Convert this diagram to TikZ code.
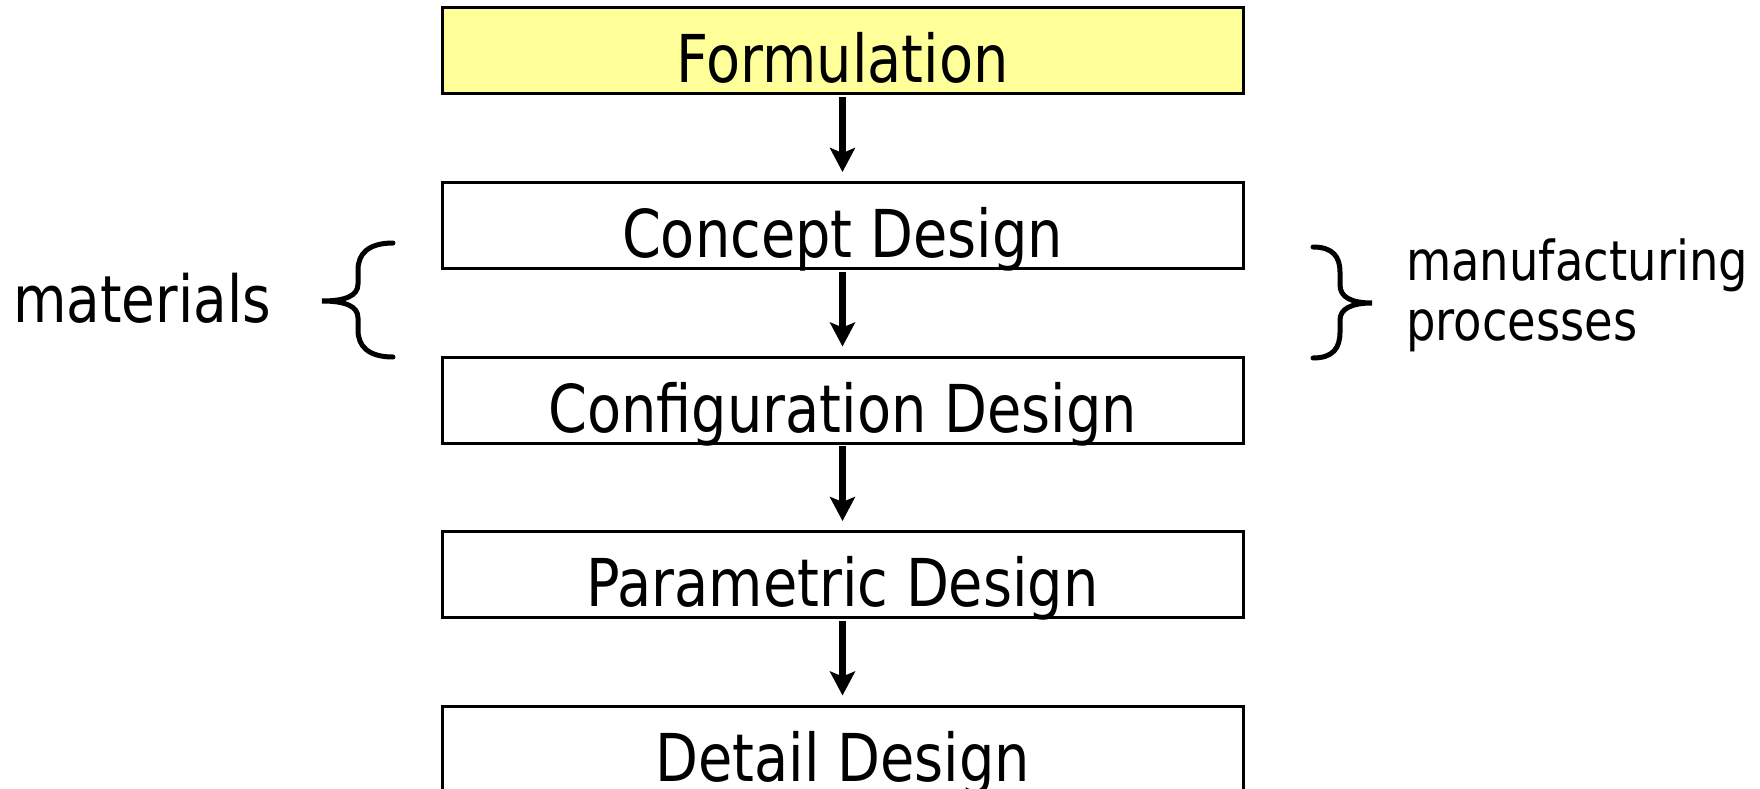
\documentclass[tikz,border=0pt]{standalone}
\usepackage{fontspec}
\setmainfont{DejaVu Sans}[FakeStretch=0.845]
\usetikzlibrary{arrows.meta}
\definecolor{formyellow}{HTML}{FFFF99}
\begin{document}
\begin{tikzpicture}[x=1pt,y=-1pt,
  stagebox/.style={draw, line width=3pt, minimum width=801pt, minimum height=86pt,
    inner sep=0pt, text height=64pt, text depth=0pt, font=\fontsize{66}{70}\selectfont},
  flow/.style={line width=7.5pt, -{Stealth[length=24pt,width=25pt,inset=5pt]},
    shorten >=9pt, shorten <=1.5pt},
  bracestroke/.style={line width=5pt, line cap=round},
  bigtext/.style={anchor=base west, inner sep=0pt, font=\fontsize{65}{70}\selectfont},
  smalltext/.style={anchor=base west, inner sep=0pt, font=\fontsize{55}{60}\selectfont}]
\useasboundingbox (0,0) rectangle (1760,789);
\clip (0,0) rectangle (1760,789);

\node[stagebox, fill=formyellow] (f) at (842.5,51) {Formulation};
\node[stagebox] (c) at (842.5,225.5) {Concept Design};
\node[stagebox] (cf) at (842.5,400) {Configuration Design};
\node[stagebox] (p) at (842.5,574.5) {Parametric Design};
\node[stagebox] (d) at (842.5,749) {Detail Design};

\draw[flow] (f.south) -- (c.north);
\draw[flow] (c.south) -- (cf.north);
\draw[flow] (cf.south) -- (p.north);
\draw[flow] (p.south) -- (d.north);

% left brace
\draw[bracestroke] (393,243) .. controls (368,243) and (358,254) .. (358,270)
  -- (358,284) .. controls (358,296) and (345,301) .. (322,301)
  .. controls (345,301) and (358,306) .. (358,318)
  -- (358,330) .. controls (358,346) and (368,357) .. (393,357);
% right brace
\draw[bracestroke] (1313,247) .. controls (1333,247) and (1340,257) .. (1340,272)
  -- (1340,285) .. controls (1340,297) and (1351,303) .. (1372,303)
  .. controls (1351,303) and (1340,309) .. (1340,320)
  -- (1340,332) .. controls (1340,348) and (1333,358) .. (1313,358);

\node[bigtext] (mat) at (13,322) {materials};
\node[smalltext] (mfg) at (1406,280) {manufacturing};
\node[smalltext] (proc) at (1406,340) {processes};
\end{tikzpicture}
\end{document}
